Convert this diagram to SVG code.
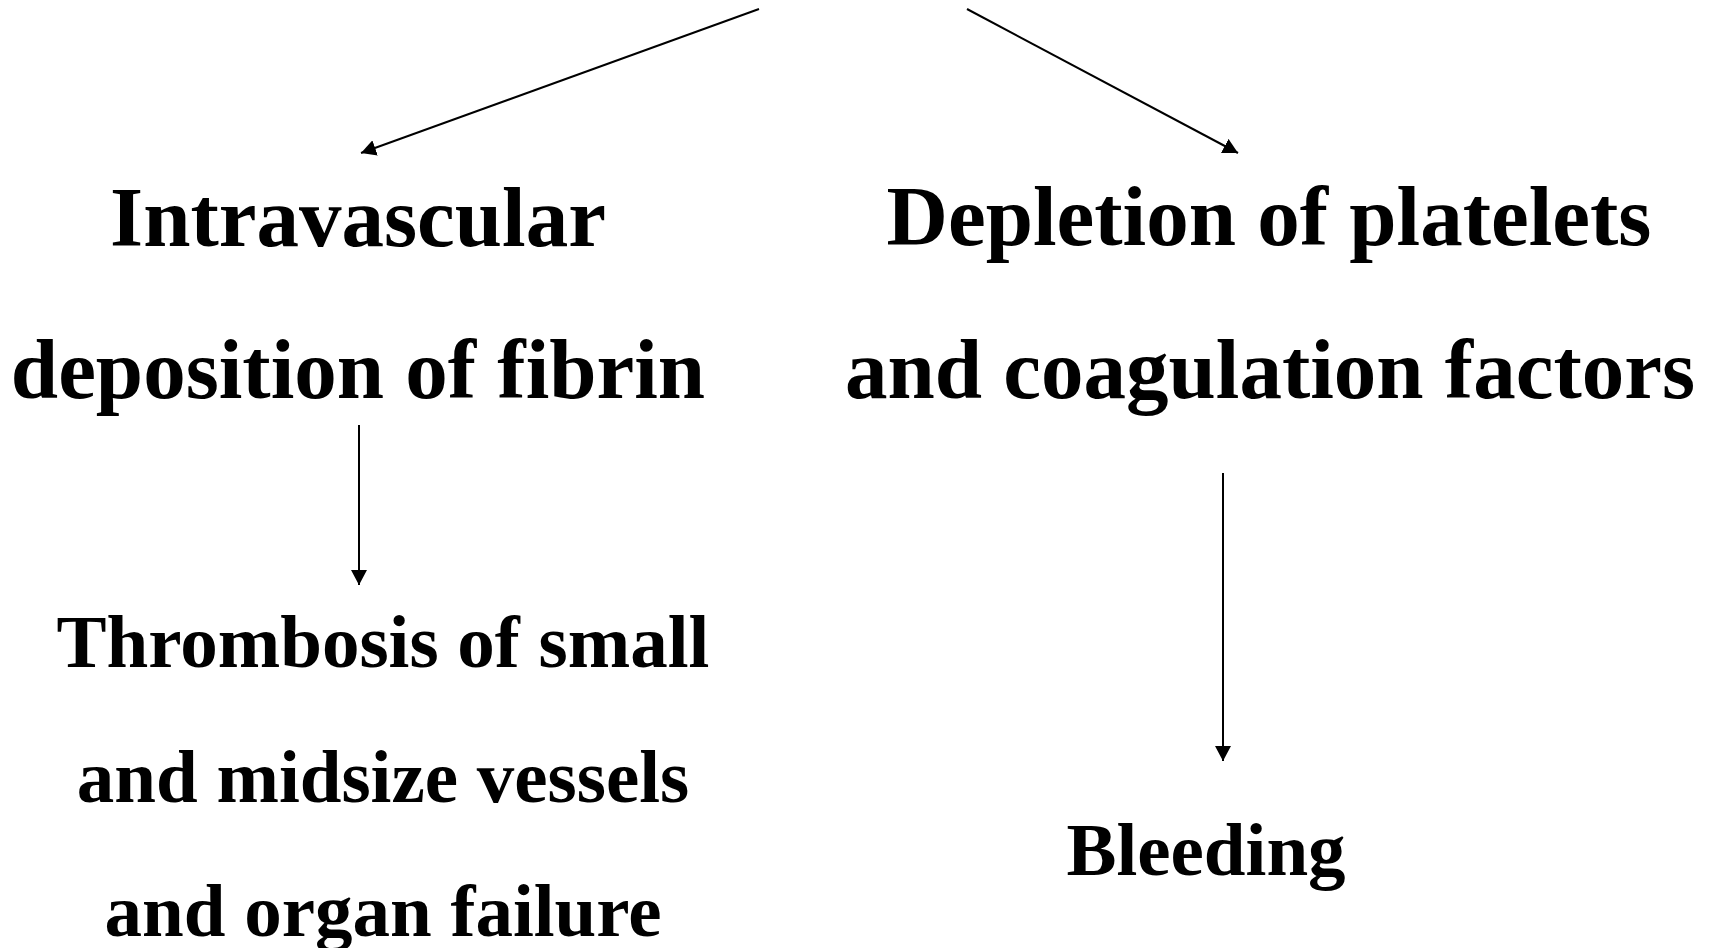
<svg xmlns="http://www.w3.org/2000/svg" width="1719" height="948" viewBox="0 0 1719 948">
  <style>
    .t { font-family: "Liberation Serif", "Times New Roman", serif; font-weight: bold; fill: #000; text-anchor: middle; }
    .big { font-size: 85px; }
    .mid { font-size: 75px; }
    .c { stroke: #000; stroke-width: 2; fill: none; marker-end: url(#ah); }
  </style>
  <defs>
    <marker id="ah" viewBox="0 0 15 16" refX="15" refY="8" markerWidth="15" markerHeight="16" markerUnits="userSpaceOnUse" orient="auto">
      <path d="M0,0 L15,8 L0,16 z" fill="#000"/>
    </marker>
  </defs>
  <rect width="1719" height="948" fill="#fff"/>
  <g id="connectors">
    <path class="c" d="M759,9 L361,153"/>
    <path class="c" d="M967,9 L1238,153"/>
    <path class="c" d="M359,425 L359,585"/>
    <path class="c" d="M1223,473 L1223,761"/>
  </g>
  <g id="node-intravascular">
    <text class="t big" x="358" y="246">Intravascular</text>
    <text class="t big" x="358" y="398">deposition of fibrin</text>
  </g>
  <g id="node-depletion">
    <text class="t big" x="1269" y="245">Depletion of platelets</text>
    <text class="t big" x="1270" y="398">and coagulation factors</text>
  </g>
  <g id="node-thrombosis">
    <text class="t mid" x="383" y="667">Thrombosis of small</text>
    <text class="t mid" x="383" y="802">and midsize vessels</text>
    <text class="t mid" x="383" y="936">and organ failure</text>
  </g>
  <g id="node-bleeding">
    <text class="t mid" x="1206" y="875">Bleeding</text>
  </g>
</svg>
